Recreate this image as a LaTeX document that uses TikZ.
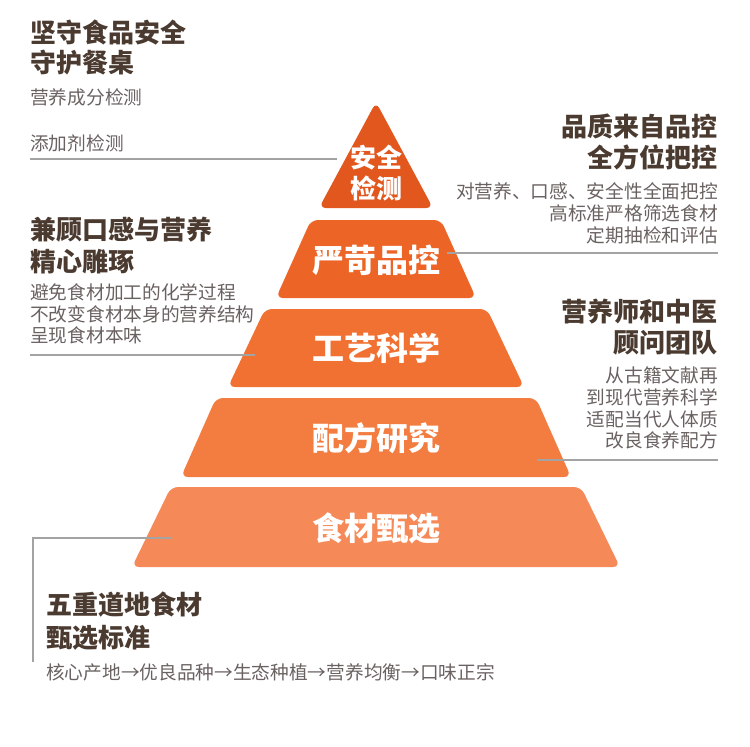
\documentclass[tikz,border=0pt]{standalone}
\usepackage{fontspec}
\setmainfont{Noto Sans CJK SC}
\newfontfamily\cjk{Noto Sans CJK SC}
\definecolor{titlec}{HTML}{4A3A2F}
\definecolor{subc}{HTML}{6A6260}
\definecolor{linec}{HTML}{A3A3A3}
\definecolor{ta}{HTML}{E1571E}
\definecolor{tb}{HTML}{EC6426}
\definecolor{tc}{HTML}{F07131}
\definecolor{td}{HTML}{F37C41}
\definecolor{te}{HTML}{F58A58}
\tikzset{
  titletext/.style={inner sep=0pt, text=titlec, font=\cjk\bfseries\fontsize{26}{31}\selectfont},
  subtext/.style={inner sep=0pt, text=subc, font=\cjk\fontsize{18.7}{22}\selectfont},
  tiertext/.style={inner sep=0pt, text=white, font=\cjk\bfseries\fontsize{32}{38}\selectfont},
  toptext/.style={inner sep=0pt, text=white, font=\cjk\bfseries\fontsize{26}{30}\selectfont},
  tier/.style={rounded corners=7pt},
  leader/.style={draw=linec, line width=1.3pt}
}
\begin{document}
\begin{tikzpicture}[x=1pt,y=-1pt]
\useasboundingbox[fill=white] (0,0) rectangle (750,747);
% pyramid
\fill[ta, tier] (376,102) -- (433,208) -- (319,208) -- cycle;
\fill[tb, tier] (311,220) -- (441,220) -- (476,298) -- (276,298) -- cycle;
\fill[tc, tier] (265,309) -- (487,309) -- (524,387) -- (228,387) -- cycle;
\fill[td, tier] (216,398) -- (536,398) -- (571,477) -- (181,477) -- cycle;
\fill[te, tier] (171,487) -- (581,487) -- (620,567) -- (132,567) -- cycle;
% tier labels
\node[toptext] (t1a) at (376,158) {安全};
\node[toptext] (t1b) at (376,188) {检测};
\node[tiertext] (t2) at (376,260) {严苛品控};
\node[tiertext] (t3) at (376,348) {工艺科学};
\node[tiertext] (t4) at (376,438) {配方研究};
\node[tiertext] (t5) at (376,528) {食材甄选};
% top-left block
\node[titletext, anchor=base west] (a1) at (30,42.5) {坚守食品安全};
\node[titletext, anchor=base west] (a2) at (30,72.5) {守护餐桌};
\node[subtext, anchor=base west] (a3) at (30,104) {营养成分检测};
\node[subtext, anchor=base west] (a4) at (30,150) {添加剂检测};
% top-right block
\node[titletext, anchor=base east] (b1) at (718,136.5) {品质来自品控};
\node[titletext, anchor=base east] (b2) at (718,167.5) {全方位把控};
\node[subtext, anchor=base east] (b3) at (718,198) {对营养、口感、安全性全面把控};
\node[subtext, anchor=base east] (b4) at (718,220) {高标准严格筛选食材};
\node[subtext, anchor=base east] (b5) at (718,242) {定期抽检和评估};
% mid-left block
\node[titletext, anchor=base west] (c1) at (30,239.5) {兼顾口感与营养};
\node[titletext, anchor=base west] (c2) at (30,271.5) {精心雕琢};
\node[subtext, anchor=base west] (c3) at (30,299.5) {避免食材加工的化学过程};
\node[subtext, anchor=base west] (c4) at (30,321) {不改变食材本身的营养结构};
\node[subtext, anchor=base west] (c5) at (30,342) {呈现食材本味};
% mid-right block
\node[titletext, anchor=base east] (d1) at (718,321.5) {营养师和中医};
\node[titletext, anchor=base east] (d2) at (718,352.5) {顾问团队};
\node[subtext, anchor=base east] (d3) at (718,382) {从古籍文献再};
\node[subtext, anchor=base east] (d4) at (718,404) {到现代营养科学};
\node[subtext, anchor=base east] (d5) at (718,426) {适配当代人体质};
\node[subtext, anchor=base east] (d6) at (718,447) {改良食养配方};
% bottom block
\node[titletext, anchor=base west] (e1) at (46,614.5) {五重道地食材};
\node[titletext, anchor=base west] (e2) at (46,647.5) {甄选标准};
\node[subtext, anchor=base west] (e3) at (46,679) {核心产地→优良品种→生态种植→营养均衡→口味正宗};
% leader lines
\coordinate (p1a) at (30,159);  \coordinate (p1b) at (337,159);
\coordinate (p2a) at (447,253); \coordinate (p2b) at (718,253);
\coordinate (p3a) at (30,355);  \coordinate (p3b) at (255,355);
\coordinate (p4a) at (537,460); \coordinate (p4b) at (718,460);
\coordinate (p5a) at (33,662);  \coordinate (p5k) at (33,538); \coordinate (p5b) at (172,538);
\draw[leader] (p1a) -- (p1b);
\draw[leader] (p2a) -- (p2b);
\draw[leader] (p3a) -- (p3b);
\draw[leader] (p4a) -- (p4b);
\draw[leader] (p5a) -- (p5k) -- (p5b);
\end{tikzpicture}
\end{document}
